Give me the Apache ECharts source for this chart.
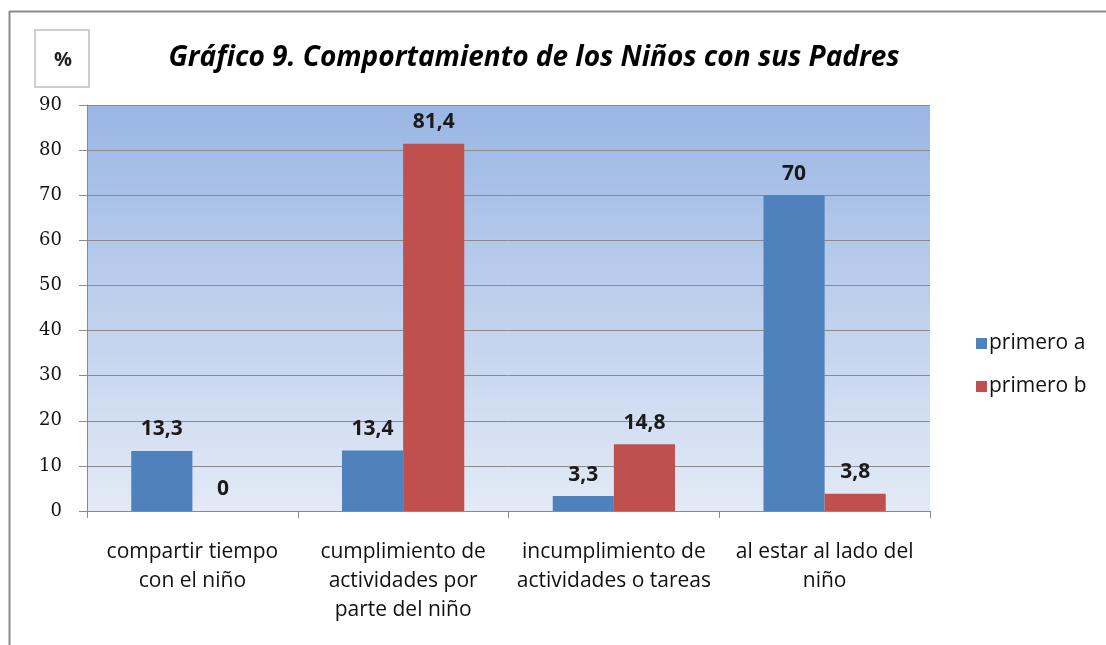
<!DOCTYPE html>
<html>
<head>
<meta charset="utf-8">
<script src="https://cdn.jsdelivr.net/npm/echarts@6/dist/echarts.min.js"></script>
<style>
  html, body { margin: 0; padding: 0; background: #fff; }
  #main { width: 1106px; height: 645px; }
</style>
</head>
<body>
<div id="main"></div>
<script>
// datos del gráfico
var categorias = [
    'compartir tiempo\ncon el niño',
    'cumplimiento de\nactividades por\nparte del niño',
    'incumplimiento de\nactividades o tareas',
    'al estar al lado del\nniño'
];
var primeroA = [13.3, 13.4, 3.3, 70];
var primeroB = [0, 81.4, 14.8, 3.8];
var ticksY = [0, 10, 20, 30, 40, 50, 60, 70, 80, 90];

var myChart = echarts.init(document.getElementById('main'));

function coma(p) {
    return String(p.value).replace('.', ',');
}

var etiqueta = {
    show: true,
    position: 'top',
    distance: 11,
    formatter: coma,
    fontFamily: 'Open Sans',
    fontWeight: 'bold',
    fontSize: 21,
    color: '#1a1a1a'
};

var option = {
    animation: false,
    backgroundColor: '#fff',
    title: {
        text: 'Gráfico 9. Comportamiento de los Niños con sus Padres',
        left: 529,
        top: 39,
        textAlign: 'center',
        textStyle: {
            fontFamily: 'Open Sans',
            fontStyle: 'italic',
            fontWeight: 'bold',
            fontSize: 28,
            color: '#000'
        }
    },
    graphic: [
        // marco exterior
        { type: 'line', shape: { x1: 9, y1: 11.5, x2: 1106, y2: 11.5 }, style: { stroke: '#8c8c8c', lineWidth: 2 } },
        { type: 'line', shape: { x1: 9.5, y1: 11, x2: 9.5, y2: 645 }, style: { stroke: '#8c8c8c', lineWidth: 2 } },
        // caja del %
        { type: 'rect', shape: { x: 35, y: 30, width: 54, height: 57 }, style: { fill: '#fff', stroke: '#cfcfcf', lineWidth: 2 } },
        { type: 'text', x: 63, y: 60, style: { text: '%', fontFamily: 'Open Sans', fontWeight: 'bold', fontSize: 20, fill: '#222', align: 'center', verticalAlign: 'middle' } }
    ],
    legend: {
        orient: 'vertical',
        left: 971,
        top: 328,
        itemWidth: 11,
        itemHeight: 11,
        itemGap: 22,
        icon: 'rect',
        textStyle: { fontFamily: 'Open Sans', fontSize: 21, color: '#111', padding: [0, 0, 0, -3] },
        data: ['primero a', 'primero b']
    },
    grid: {
        left: 87,
        right: 176,
        top: 105,
        bottom: 134,
        show: true,
        borderWidth: 0,
        backgroundColor: {
            type: 'linear', x: 0, y: 0, x2: 0, y2: 1,
            colorStops: [
                { offset: 0, color: '#9ab6e4' },
                { offset: 1, color: '#e3eaf6' }
            ]
        }
    },
    xAxis: {
        type: 'category',
        data: categorias,
        axisLine: { lineStyle: { color: '#8a8a8a', width: 1 } },
        axisTick: { show: true, length: 7, lineStyle: { color: '#8a8a8a' } },
        axisLabel: {
            interval: 0,
            margin: 27,
            fontFamily: 'Open Sans',
            fontSize: 21,
            lineHeight: 29,
            color: '#111'
        }
    },
    yAxis: {
        type: 'value',
        min: 0,
        max: 90,
        interval: 10,
        axisLine: { show: true, lineStyle: { color: '#8a8a8a', width: 1 } },
        axisTick: { show: true, length: 8, lineStyle: { color: '#8a8a8a' } },
        axisLabel: {
            margin: 25,
            fontFamily: 'DejaVu Serif',
            fontSize: 18,
            color: '#111',
            customValues: ticksY
        },
        splitLine: { show: true, lineStyle: { color: '#8a8a8a', width: 1 } }
    },
    series: [
        {
            name: 'primero a',
            type: 'bar',
            data: primeroA,
            barGap: '0%',
            barCategoryGap: '42%',
            itemStyle: { color: '#4f81bd' },
            label: etiqueta
        },
        {
            name: 'primero b',
            type: 'bar',
            data: primeroB,
            itemStyle: { color: '#c0504d' },
            label: etiqueta
        }
    ]
};

myChart.setOption(option);
window.addEventListener('resize', function () {
    myChart.resize();
});
</script>
</body>
</html>
